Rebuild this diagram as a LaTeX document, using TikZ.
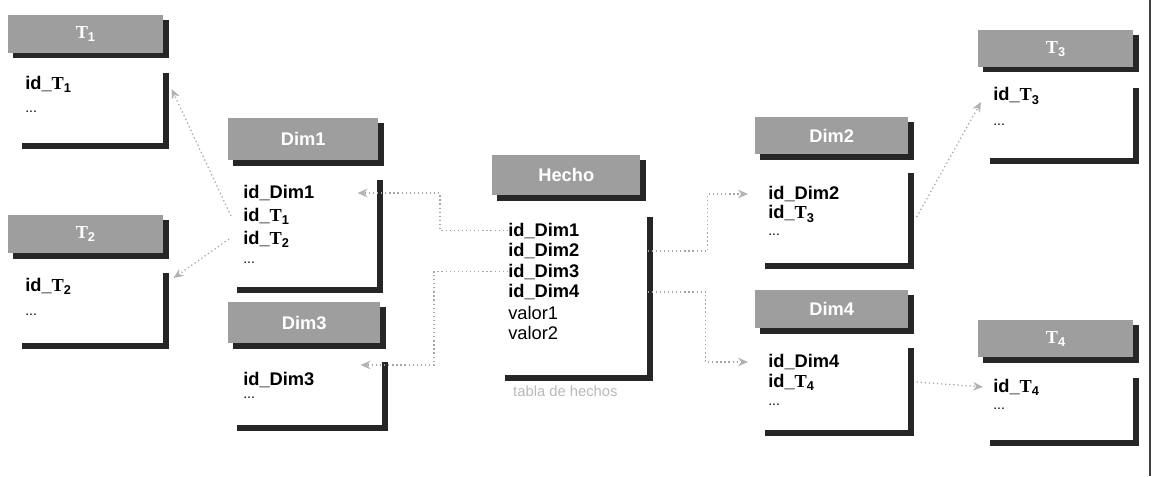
\documentclass[tikz,border=0pt]{standalone}
\usepackage{fontspec}
\setmainfont{Liberation Sans}
\newfontfamily\serifT{Liberation Serif}
\usepackage{tikz}
\usetikzlibrary{arrows.meta,positioning,calc,shadows}
\usepackage{xcolor}
\definecolor{headgray}{gray}{0.62}
\definecolor{shadegray}{gray}{0.15}
\newcommand{\Tsub}[1]{{\serifT\bfseries T}\textsubscript{#1}}
\newcommand{\idT}[1]{id\_\Tsub{#1}}

\begin{document}
\begin{tikzpicture}[x=0.025cm, y=-0.025cm,
    tshadow/.style={general shadow={fill=shadegray, shadow xshift=0.13cm, shadow yshift=-0.13cm}},
    thead/.style={fill=headgray, tshadow, inner sep=0pt, anchor=north west,
      text=white, font=\fontsize{13}{15}\selectfont\bfseries},
    tbody/.style={fill=white, tshadow, inner sep=0pt, anchor=north west},
    field/.style={anchor=west, inner sep=0pt, font=\fontsize{13}{15}\selectfont\bfseries},
    plain/.style={anchor=west, inner sep=0pt, font=\fontsize{13}{15}\selectfont},
    more/.style={anchor=west, inner sep=0pt, font=\fontsize{10}{11}\selectfont},
    link/.style={gray!70, dotted, line width=0.9pt, -{Stealth[length=7pt, width=6pt, gray!60]}},
  ]
  \useasboundingbox (0,0) rectangle (1157,476);

  % T1
  \node[thead, minimum width=3.875cm, minimum height=0.95cm] (t1head) at (8,15) {\Tsub{1}};
  \node[tbody, minimum width=3.65cm, minimum height=1.875cm] (t1body) at (17,68) {};
  \node[field] (t1a) at (25,84) {\idT{1}};
  \node[more] (t1b) at (25,112) {...};

  % T2
  \node[thead, minimum width=3.875cm, minimum height=0.95cm] (t2head) at (8,215) {\Tsub{2}};
  \node[tbody, minimum width=3.65cm, minimum height=1.875cm] (t2body) at (17,268) {};
  \node[field] (t2a) at (25,286) {\idT{2}};
  \node[more] (t2b) at (25,315) {...};

  % Dim1
  \node[thead, minimum width=3.75cm, minimum height=1.05cm] (d1head) at (228,118) {Dim1};
  \node[tbody, minimum width=3.625cm, minimum height=2.8cm] (d1body) at (232,175) {};
  \node[field] (d1a) at (243,193) {id\_Dim1};
  \node[field] (d1b) at (243,216) {\idT{1}};
  \node[field] (d1c) at (243,239) {\idT{2}};
  \node[more] (d1d) at (243,263) {...};

  % Dim3
  \node[thead, minimum width=3.8cm, minimum height=1.025cm] (d3head) at (228,302) {Dim3};
  \node[tbody, minimum width=3.75cm, minimum height=1.7cm] (d3body) at (232,357) {};
  \node[field] (d3a) at (243,380) {id\_Dim3};
  \node[more] (d3b) at (243,398) {...};

  % Hecho (fact table)
  \node[thead, minimum width=3.7cm, minimum height=1.0cm] (hhead) at (492,155) {Hecho};
  \node[tbody, minimum width=3.675cm, minimum height=4.075cm] (hbody) at (500,212) {};
  \foreach \i in {1,...,4}
    \node[field] (h\i) at (508,{210+20.5*\i}) {id\_Dim\i};
  \foreach \v [count=\i from 5] in {1,2}
    \node[plain] (h\i) at (508,{210+20.5*\i}) {valor\v};
  \node[inner sep=0pt, text=gray!55, font=\fontsize{10.5}{12}\selectfont,
        below=7pt of hbody, xshift=-6pt] (hcap) {tabla de hechos};

  % Dim2
  \node[thead, minimum width=3.825cm, minimum height=0.925cm] (d2head) at (755,117) {Dim2};
  \node[tbody, minimum width=3.7cm, minimum height=2.375cm] (d2body) at (760,168) {};
  \node[field] (d2a) at (768,194) {id\_Dim2};
  \node[field] (d2b) at (768,214) {\idT{3}};
  \node[more] (d2c) at (768,235) {...};

  % Dim4
  \node[thead, minimum width=3.825cm, minimum height=0.95cm] (d4head) at (755,290) {Dim4};
  \node[tbody, minimum width=3.7cm, minimum height=2.175cm] (d4body) at (760,343) {};
  \node[field] (d4a) at (768,362) {id\_Dim4};
  \node[field] (d4b) at (768,382) {\idT{4}};
  \node[more] (d4c) at (768,405) {...};

  % T3
  \node[thead, minimum width=3.875cm, minimum height=0.925cm] (t3head) at (978,30) {\Tsub{3}};
  \node[tbody, minimum width=3.7cm, minimum height=1.875cm] (t3body) at (985,83) {};
  \node[field] (t3a) at (993,96) {\idT{3}};
  \node[more] (t3b) at (993,125) {...};

  % T4
  \node[thead, minimum width=3.875cm, minimum height=0.925cm] (t4head) at (978,320) {\Tsub{4}};
  \node[tbody, minimum width=3.7cm, minimum height=1.675cm] (t4body) at (985,373) {};
  \node[field] (t4a) at (993,387) {\idT{4}};
  \node[more] (t4b) at (993,409) {...};

  % Hecho -> dimensions
  \draw[link] (h1.west) -- ++(-68,0) |- ($(d1body.east |- d1a)+(-20,0)$);
  \draw[link] (h3.west) -- ++(-74,0) |- ($(d3body.east |- d3a)+(-22,-15)$);
  \draw[link] (hbody.east |- h2) -- ++(60,0) |- ($(d2a.west)+(-20,0)$);
  \draw[link] (hbody.east |- h4) -- ++(58,0) |- ($(d4a.west)+(-20,0)$);

  % dimensions -> T tables
  \draw[link] ($(d1b.west)+(-12,0)$) -- ($(t1body.east |- t1a)+(8,5)$);
  \draw[link] ($(d1c.west)+(-14,0)$) -- ($(t2body.east |- t2a)+(10,-8)$);
  \draw[link] ($(d2body.east |- d2b)+(8,3)$) -- ($(t3a.west)+(-12,6)$);
  \draw[link] ($(d4body.east |- d4b)+(8,0)$) -- ($(t4a.west)+(-10,0)$);

  % right rule
  \draw[black!75, line width=1.3pt] (1150,0) -- (1150,476);

\end{tikzpicture}
\end{document}
